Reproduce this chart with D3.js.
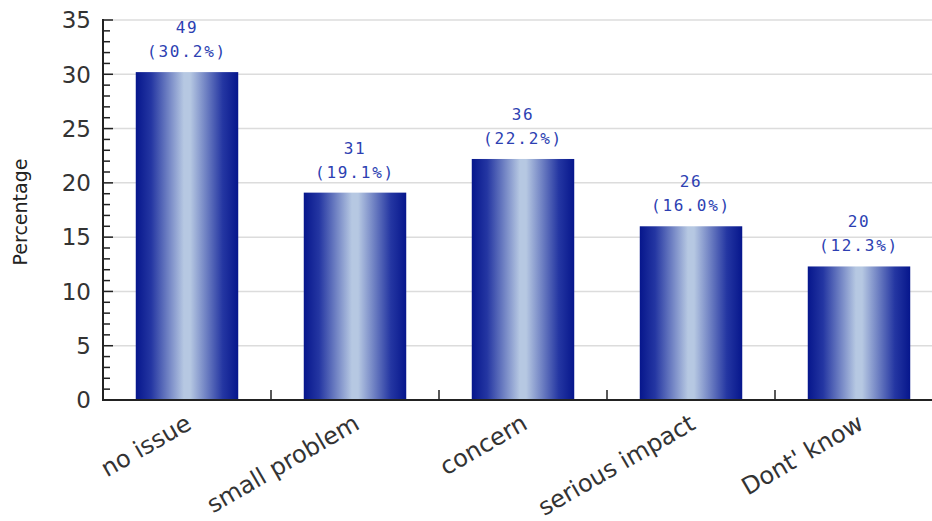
<!DOCTYPE html>
<html>
<head>
<meta charset="utf-8">
<script src="https://cdn.jsdelivr.net/npm/d3@7/dist/d3.min.js"></script>
<style>
  html, body { margin: 0; padding: 0; background: #fff; }
  svg { display: block; }
</style>
</head>
<body>
<svg id="chart" width="932" height="521"></svg>
<script>
// Survey responses: count and share of respondents per answer
const categories = ["no issue", "small problem", "concern", "serious impact", "Dont' know"];
const counts = [49, 31, 36, 26, 20];
const percents = [30.2, 19.1, 22.2, 16.0, 12.3];
const yTicks = [0, 5, 10, 15, 20, 25, 30, 35];
const yTitle = "Percentage";

const W = 932, H = 521;
const x0 = 103, x1 = 943, y0 = 400, y1 = 20;

const svg = d3.select("#chart");

// Horizontal cylinder-like gradient for the bars
const defs = svg.append("defs");
const grad = defs.append("linearGradient")
  .attr("id", "barGrad").attr("x1", "0%").attr("x2", "100%").attr("y1", "0%").attr("y2", "0%");
[["0%", "#06168c"], ["15%", "#2436a2"], ["47%", "#b6c8e2"], ["53%", "#b6c8e2"], ["85%", "#2436a2"], ["100%", "#06168c"]]
  .forEach(([o, c]) => grad.append("stop").attr("offset", o).attr("stop-color", c));

const x = d3.scaleBand().domain(categories).range([x0, x1]).paddingInner(0.39).paddingOuter(0.195);
const y = d3.scaleLinear().domain([0, 35]).range([y0, y1]);

// Gridlines
svg.append("g").selectAll("line").data(yTicks.filter(d => d > 0)).join("line")
  .attr("x1", x0).attr("x2", W).attr("y1", d => y(d)).attr("y2", d => y(d))
  .attr("stroke", "#dcdcdc").attr("stroke-width", 1.5);

// Bars
svg.append("g").selectAll("rect").data(categories).join("rect")
  .attr("x", d => x(d))
  .attr("width", x.bandwidth())
  .attr("y", (d, i) => y(percents[i]))
  .attr("height", (d, i) => y0 - y(percents[i]))
  .attr("fill", "url(#barGrad)");

// Value labels: count and percentage
const lbl = svg.append("g")
  .attr("font-family", "'DejaVu Sans Mono', monospace")
  .attr("font-size", 16)
  .attr("fill", "#2d3fb2")
  .attr("text-anchor", "middle");
categories.forEach((c, i) => {
  const cx = x(c) + x.bandwidth() / 2;
  const top = y(percents[i]);
  lbl.append("text").attr("x", cx).attr("y", top - 39).attr("letter-spacing", 1.5)
    .text(counts[i]);
  lbl.append("text").attr("x", cx).attr("y", top - 15).attr("letter-spacing", 1.8)
    .text("(" + percents[i].toFixed(1) + "%)");
});

// Y axis with minor ticks pointing inward
const ya = svg.append("g");
d3.range(0, 36).forEach(v => {
  ya.append("line").attr("x1", x0).attr("x2", x0 + (v % 5 === 0 ? 10 : 7))
    .attr("y1", y(v)).attr("y2", y(v)).attr("stroke", "#222").attr("stroke-width", 1.5);
});
ya.append("line").attr("x1", x0).attr("x2", x0).attr("y1", y(35) - 1).attr("y2", y0 + 1)
  .attr("stroke", "#222").attr("stroke-width", 2);
ya.selectAll("text").data(yTicks).join("text")
  .attr("x", x0 - 12).attr("y", d => y(d)).attr("dy", "0.36em")
  .attr("text-anchor", "end")
  .attr("font-family", "'DejaVu Sans', Verdana, sans-serif")
  .attr("font-size", 23).attr("fill", "#333")
  .text(d => d);

// X axis: baseline and ticks between categories
const xa = svg.append("g");
xa.append("line").attr("x1", x0 - 1).attr("x2", W).attr("y1", y0).attr("y2", y0)
  .attr("stroke", "#222").attr("stroke-width", 2);
const step = x.step();
categories.slice(1).forEach((c, i) => {
  const bx = x0 + step * (i + 1);
  xa.append("line").attr("x1", bx).attr("x2", bx).attr("y1", y0).attr("y2", y0 - 10)
    .attr("stroke", "#222").attr("stroke-width", 1.5);
});
xa.selectAll("text").data(categories).join("text")
  .attr("transform", d => `translate(${x(d) + x.bandwidth() / 2 + 6},${y0 + 28}) rotate(-30)`)
  .attr("text-anchor", "end")
  .attr("font-family", "'DejaVu Sans', Verdana, sans-serif")
  .attr("font-size", 24).attr("fill", "#333")
  .text(d => d);

// Y axis title
svg.append("text")
  .attr("transform", `translate(27,${(y0 + y1) / 2 + 2}) rotate(-90)`)
  .attr("text-anchor", "middle")
  .attr("font-family", "'DejaVu Sans', Verdana, sans-serif")
  .attr("font-size", 19).attr("fill", "#222")
  .text(yTitle);
</script>
</body>
</html>
